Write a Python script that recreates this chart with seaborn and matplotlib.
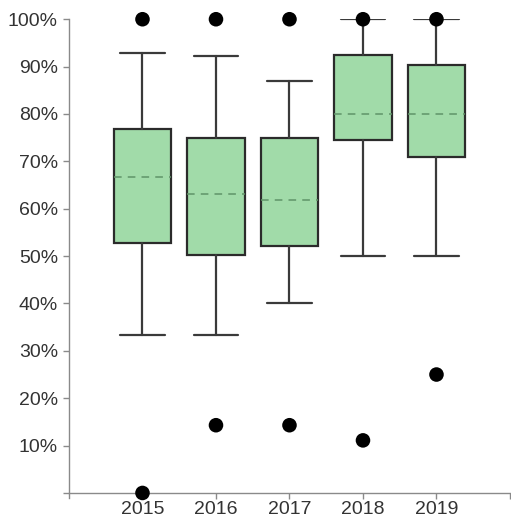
import matplotlib
matplotlib.use("Agg")
import matplotlib.pyplot as plt
import seaborn as sns
import pandas as pd

# Yearly distribution summaries (share, %)
years = ["2015", "2016", "2017", "2018", "2019"]
whisker_low = [33.3, 33.3, 40.0, 50.0, 50.0]
q1 = [52.8, 50.2, 52.1, 74.5, 71.0]
median = [66.7, 63.2, 61.8, 80.0, 80.0]
q3 = [76.9, 75.0, 75.0, 92.4, 90.3]
whisker_high = [92.9, 92.3, 86.9, 100.0, 100.0]
outliers = [[100.0, 0.0], [100.0, 14.3], [100.0, 14.3], [100.0, 11.1], [100.0, 25.0]]

y_ticks = [0, 10, 20, 30, 40, 50, 60, 70, 80, 90, 100]
y_labels = ["", "10%", "20%", "30%", "40%", "50%", "60%", "70%", "80%", "90%", "100%"]

sns.set_style("white")
plt.rcParams["font.family"] = ["Liberation Sans", "DejaVu Sans"]

fig = plt.figure(figsize=(5.11, 5.20), dpi=100)
ax = fig.add_axes([0.135, 0.052, 0.863, 0.911])

stats = []
for i, yr in enumerate(years):
    stats.append(dict(label=yr, whislo=whisker_low[i], q1=q1[i], med=median[i],
                      q3=q3[i], whishi=whisker_high[i], fliers=[]))

edge = "#2b2b2b"
ax.bxp(stats, positions=range(len(years)), widths=0.78, patch_artist=True,
       showfliers=False,
       boxprops=dict(facecolor="#a1dba9", edgecolor=edge, linewidth=1.6),
       whiskerprops=dict(color="#3a3a3a", linewidth=1.6),
       capprops=dict(color="#3a3a3a", linewidth=1.6),
       medianprops=dict(color="#5f9468", linewidth=1.1, linestyle=(0, (5, 4))),
       capwidths=0.6)

flier_df = pd.DataFrame(
    [(i, v) for i, vals in enumerate(outliers) for v in vals], columns=["pos", "value"])
sns.scatterplot(data=flier_df, x="pos", y="value", ax=ax, color="black",
                s=110, edgecolor="none", zorder=5, clip_on=False, legend=False)

ax.set_xlim(-1, 5)
ax.set_ylim(0, 100)
ax.set_xticks(list(range(len(years))) + [5])
ax.set_xticklabels(years + [""])
ax.set_yticks(y_ticks)
ax.set_yticklabels(y_labels)
ax.set_xlabel("")
ax.set_ylabel("")

for side in ["top", "right"]:
    ax.spines[side].set_visible(False)
for side in ["left", "bottom"]:
    ax.spines[side].set_color("#8a8a8a")
    ax.spines[side].set_linewidth(1.0)
ax.spines["left"].set_bounds(-1, 100)

ax.tick_params(axis="both", which="both", length=4, width=1.0, color="#8a8a8a",
               labelsize=14, labelcolor="#333333", direction="out",
               left=True, bottom=True)
ax.tick_params(axis="x", pad=2)
ax.tick_params(axis="y", pad=4)

fig.savefig("out.png", dpi=100)
